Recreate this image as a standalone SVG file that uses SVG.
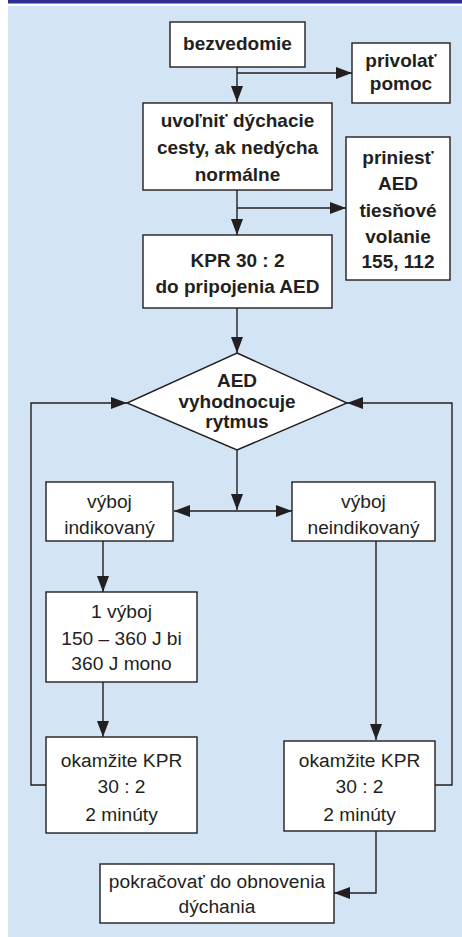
<svg xmlns="http://www.w3.org/2000/svg" width="462" height="937" viewBox="0 0 462 937">
<style>
.box{fill:#fff;stroke:#231f20;stroke-width:1.4}
.ln{fill:none;stroke:#231f20;stroke-width:1.4}
.b{font-family:"Liberation Sans",Arial,sans-serif;font-weight:bold;font-size:19px;fill:#231f20;text-anchor:middle}
.r{font-family:"Liberation Sans",Arial,sans-serif;font-size:19.2px;fill:#231f20;text-anchor:middle}
</style>
<defs>
<marker id="ah" viewBox="0 0 16 12" refX="16" refY="6" markerWidth="16" markerHeight="12" markerUnits="userSpaceOnUse" orient="auto">
<path d="M0,0 L16,6 L0,12 Z" fill="#231f20"/>
</marker>
</defs>
<rect x="0" y="0" width="462" height="937" fill="#fff"/>
<rect x="8" y="0" width="454" height="3.5" fill="#2b2f8f"/>
<rect x="8" y="6" width="454" height="931" fill="#d3e4f5"/>
<g id="connectors">
<path class="ln" d="M237,67 V102" marker-end="url(#ah)"/>
<path class="ln" d="M237,73 H352" marker-end="url(#ah)"/>
<path class="ln" d="M237,190 V235" marker-end="url(#ah)"/>
<path class="ln" d="M237,208 H346" marker-end="url(#ah)"/>
<path class="ln" d="M237,308 V353" marker-end="url(#ah)"/>
<path class="ln" d="M237,450 V510" marker-end="url(#ah)"/>
<path class="ln" d="M237,511 H174" marker-end="url(#ah)"/>
<path class="ln" d="M237,511 H292" marker-end="url(#ah)"/>
<path class="ln" d="M103,541 V592" marker-end="url(#ah)"/>
<path class="ln" d="M103,682 V737" marker-end="url(#ah)"/>
<path class="ln" d="M376,541 V740" marker-end="url(#ah)"/>
<path class="ln" d="M46,785 H31 V403 H127" marker-end="url(#ah)"/>
<path class="ln" d="M435,785 H452 V403 H347" marker-end="url(#ah)"/>
<path class="ln" d="M376,831 V893 H334" marker-end="url(#ah)"/>
</g>
<g id="bezvedomie">
<rect class="box" x="170" y="22" width="135" height="45"/>
<text class="b" x="237.5" y="50">bezvedomie</text>
</g>
<g id="privolat">
<rect class="box" x="352" y="43" width="98" height="60"/>
<text class="b" x="401" y="67">privolať</text>
<text class="b" x="401" y="90">pomoc</text>
</g>
<g id="uvolnit">
<rect class="box" x="143" y="103" width="189" height="87"/>
<text class="b" x="237.5" y="127">uvoľniť dýchacie</text>
<text class="b" x="237.5" y="154">cesty, ak nedýcha</text>
<text class="b" x="237.5" y="181">normálne</text>
</g>
<g id="priniest">
<rect class="box" x="346" y="137" width="104" height="143"/>
<text class="b" x="398" y="164">priniesť</text>
<text class="b" x="398" y="190">AED</text>
<text class="b" x="398" y="216.5">tiesňové</text>
<text class="b" x="398" y="242.5">volanie</text>
<text class="b" x="398" y="268">155, 112</text>
</g>
<g id="kpr">
<rect class="box" x="143" y="235" width="189" height="73"/>
<text class="b" x="237.5" y="266.5">KPR 30 : 2</text>
<text class="b" x="237.5" y="293">do pripojenia AED</text>
</g>
<g id="aed">
<polygon class="box" points="237,353 347,403 237,450 127,403"/>
<text class="b" x="237" y="387">AED</text>
<text class="b" x="237" y="408">vyhodnocuje</text>
<text class="b" x="237" y="428">rytmus</text>
</g>
<g id="indikovany">
<rect class="box" x="46" y="482" width="127" height="59"/>
<text class="r" x="109.5" y="508">výboj</text>
<text class="r" x="109.5" y="534">indikovaný</text>
</g>
<g id="neindikovany">
<rect class="box" x="292" y="482" width="143" height="59"/>
<text class="r" x="363.5" y="508">výboj</text>
<text class="r" x="363.5" y="534">neindikovaný</text>
</g>
<g id="vyboj">
<rect class="box" x="46" y="592" width="151" height="90"/>
<text class="r" x="121.5" y="618">1 výboj</text>
<text class="r" x="121.5" y="645">150 – 360 J bi</text>
<text class="r" x="121.5" y="670">360 J mono</text>
</g>
<g id="kpr-left">
<rect class="box" x="46" y="737" width="151" height="96"/>
<text class="r" x="121.5" y="767">okamžite KPR</text>
<text class="r" x="121.5" y="793">30 : 2</text>
<text class="r" x="121.5" y="821">2 minúty</text>
</g>
<g id="kpr-right">
<rect class="box" x="284" y="741" width="151" height="90"/>
<text class="r" x="359.5" y="767">okamžite KPR</text>
<text class="r" x="359.5" y="793">30 : 2</text>
<text class="r" x="359.5" y="821">2 minúty</text>
</g>
<g id="pokracovat">
<rect class="box" x="100" y="864" width="234" height="59"/>
<text class="r" x="217" y="888">pokračovať do obnovenia</text>
<text class="r" x="217" y="913">dýchania</text>
</g>
</svg>
